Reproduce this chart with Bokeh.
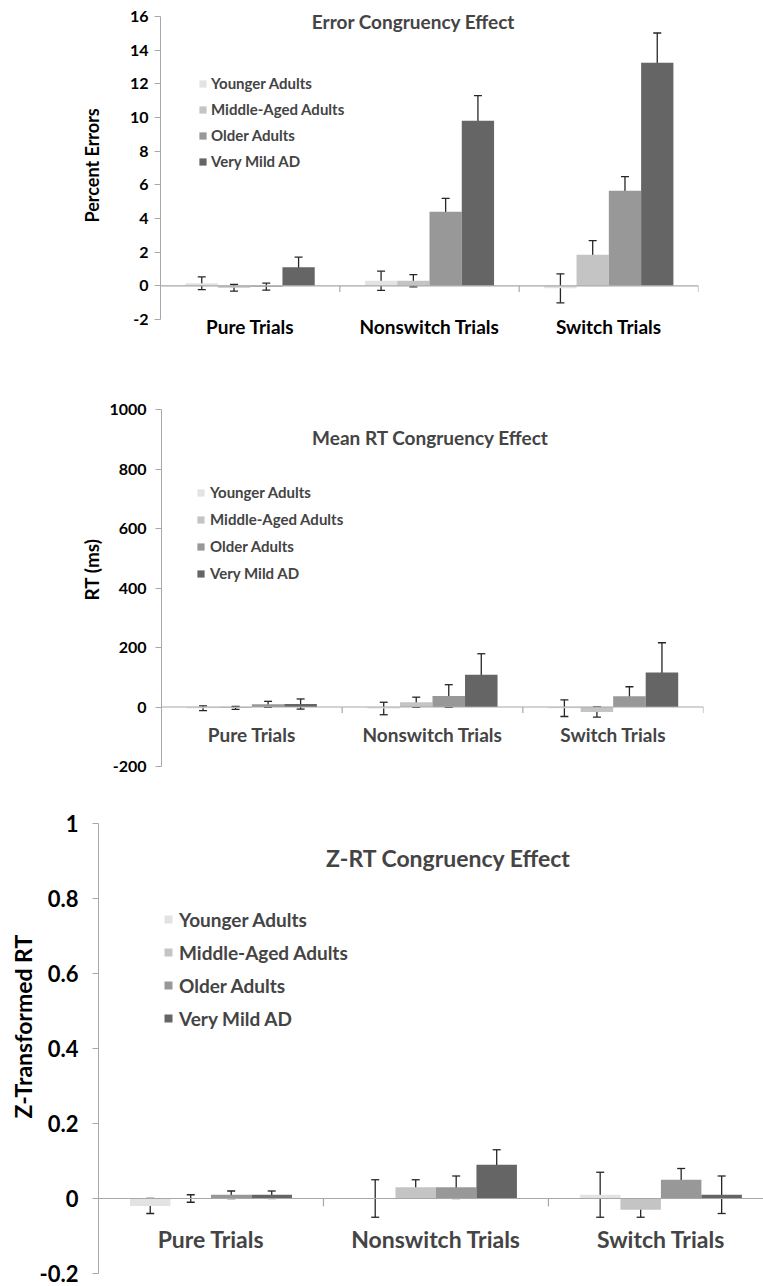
from bokeh.plotting import figure
from bokeh.models import (ColumnDataSource, FixedTicker, Span, Whisker, TeeHead,
                          Label, LabelSet, Legend, LegendItem, Range1d, Title,
                          LinearAxis, CustomJSTickFormatter)
from bokeh.layouts import column
from bokeh.core.properties import value
from bokeh.embed import file_html
from bokeh.resources import INLINE

# ---- data -------------------------------------------------------------
categories = ["Pure Trials", "Nonswitch Trials", "Switch Trials"]
groups = ["Younger Adults", "Middle-Aged Adults", "Older Adults", "Very Mild AD"]

# Error congruency effect (percent errors), per group across categories
err_younger = [0.15, 0.3, -0.15]
err_middle = [-0.12, 0.3, 1.85]
err_older = [-0.05, 4.4, 5.65]
err_vma = [1.1, 9.8, 13.25]
err_younger_se = [0.38, 0.57, 0.86]
err_middle_se = [0.2, 0.36, 0.83]
err_older_se = [0.21, 0.8, 0.84]
err_vma_se = [0.6, 1.5, 1.77]

# Mean RT congruency effect (ms)
rt_younger = [-4, -5, -4]
rt_middle = [-3, 16, -17]
rt_older = [9, 37, 36]
rt_vma = [10, 108, 116]
rt_younger_se = [8, 21, 28]
rt_middle_se = [5, 17, 17]
rt_older_se = [10, 38, 32]
rt_vma_se = [17, 71, 100]

# Z-transformed RT congruency effect
z_younger = [-0.02, 0.0, 0.01]
z_middle = [0.0, 0.03, -0.03]
z_older = [0.01, 0.03, 0.05]
z_vma = [0.01, 0.09, 0.01]
z_younger_se = [0.02, 0.05, 0.06]
z_middle_se = [0.01, 0.02, 0.02]
z_older_se = [0.01, 0.03, 0.03]
z_vma_se = [0.01, 0.04, 0.05]

err_ticks = [-2, 0, 2, 4, 6, 8, 10, 12, 14, 16]
rt_ticks = [-200, 0, 200, 400, 600, 800, 1000]
z_ticks = [-0.2, 0, 0.2, 0.4, 0.6, 0.8, 1]

# ---- styling ----------------------------------------------------------
colors = ["#e3e3e3", "#c4c4c4", "#989898", "#656565"]
AXIS_COLOR = "#a8a8a8"
ERR_COLOR = "#262626"
FONT = "Lato"
BAR_W = 0.18


def make_panel(cfg, series, errors):
    ticks = cfg["ticks"]
    p = figure(width=763, height=cfg["height"],
               x_range=Range1d(0, cfg["x_end"]),
               y_range=Range1d(ticks[0], cfg.get("y_end", ticks[-1])),
               x_axis_location=None, toolbar_location=None,
               output_backend="svg",
               min_border_left=cfg["left"], min_border_right=cfg["right"],
               min_border_top=cfg["top"], min_border_bottom=cfg["bottom"])
    p.frame_align = False
    p.outline_line_color = None
    p.grid.visible = False
    p.background_fill_color = "white"

    ax = p.yaxis[0]
    ax.bounds = (ticks[0], ticks[-1])
    ax.ticker = FixedTicker(ticks=ticks)
    ax.formatter = CustomJSTickFormatter(code="return String(tick)")
    ax.axis_line_color = AXIS_COLOR
    ax.major_tick_line_color = AXIS_COLOR
    ax.minor_tick_line_color = None
    ax.major_tick_out = 6
    ax.major_tick_in = 0
    ax.major_label_standoff = cfg["standoff"]
    ax.major_label_text_font = FONT
    ax.major_label_text_font_style = "bold"
    ax.major_label_text_font_size = cfg["tick_fs"]
    ax.major_label_text_color = "black"

    # y-axis title beside the tick labels; offset is measured up from
    # the bottom of the plotting area
    p.add_layout(Title(text=cfg["ylabel"], align="left",
                       offset=cfg["ylab_offset"], standoff=cfg["ylab_standoff"],
                       text_font=FONT, text_font_style="bold",
                       text_font_size=cfg["ylab_fs"], text_color="black"),
                 "left")

    # horizontal axis through zero plus category separator ticks
    p.add_layout(Span(location=0, dimension="width", line_color=AXIS_COLOR,
                      line_width=1.2))
    n = len(categories)
    p.segment(x0=list(range(1, n + 1)), x1=list(range(1, n + 1)),
              y0=[0] * n, y1=[-cfg["sep"]] * n,
              line_color=AXIS_COLOR, line_width=1.2)

    items = []
    for k, (name, vals, ses) in enumerate(zip(groups, series, errors)):
        xs = [i + 0.5 + (k - 1.5) * BAR_W for i in range(n)]
        src = ColumnDataSource(dict(
            x=xs, top=vals,
            upper=[v + e for v, e in zip(vals, ses)],
            lower=[v - e for v, e in zip(vals, ses)]))
        r = p.vbar(x="x", top="top", bottom=0, width=BAR_W, source=src,
                   fill_color=colors[k], line_color=None)
        items.append(LegendItem(label=name, renderers=[r]))
        p.add_layout(Whisker(
            source=src, base="x", upper="upper", lower="lower",
            dimension="height", line_color=ERR_COLOR, line_width=1.3,
            upper_head=TeeHead(size=8, line_color=ERR_COLOR, line_width=1.3),
            lower_head=TeeHead(size=8, line_color=ERR_COLOR, line_width=1.3)))

    legend = Legend(items=items, location=cfg["leg_loc"],
                    glyph_width=cfg["glyph"], glyph_height=cfg["glyph"],
                    label_standoff=cfg["leg_standoff"],
                    label_height=cfg["leg_lh"], spacing=cfg["leg_sp"],
                    padding=0, margin=0, border_line_color=None,
                    background_fill_alpha=0,
                    label_text_font=FONT, label_text_font_style="bold",
                    label_text_font_size=cfg["leg_fs"])
    p.add_layout(legend)

    p.add_layout(Label(x=cfg["title_xy"][0], y=cfg["title_xy"][1],
                       text=cfg["title"], text_font=FONT,
                       text_font_style="bold", text_font_size=cfg["title_fs"],
                       text_align="center", text_baseline="middle"))

    centers = [i + 0.5 for i in range(n)]
    if cfg["cat_y"] is None:
        # category names on an axis just under the plotting area
        cat_axis = LinearAxis(
            ticker=FixedTicker(ticks=centers),
            formatter=CustomJSTickFormatter(args=dict(names=categories),
                                            code="return names[Math.floor(tick)]"),
            axis_line_color=None, major_tick_line_color=None,
            minor_tick_line_color=None, major_tick_out=0, major_tick_in=0,
            major_label_standoff=cfg["cat_standoff"],
            major_label_text_font=FONT, major_label_text_font_style="bold",
            major_label_text_font_size=cfg["cat_fs"],
            major_label_text_color="black")
        p.add_layout(cat_axis, "below")
    else:
        cat_src = ColumnDataSource(dict(x=centers, y=[cfg["cat_y"]] * n,
                                        text=categories))
        p.add_layout(LabelSet(source=cat_src, x="x", y="y", text="text",
                              text_font=value(FONT), text_font_style="bold",
                              text_font_size=value(cfg["cat_fs"]),
                              text_align="center", text_baseline="middle"))
    return p


p1 = make_panel(dict(height=400, top=0, bottom=81, left=160, right=65,
                     x_end=3.0, ticks=err_ticks, y_end=16.95,
                     tick_fs="16px", standoff=6,
                     sep=0.36, title="Error Congruency Effect",
                     title_xy=(1.411, 15.69), title_fs="19px",
                     ylabel="Percent Errors", ylab_fs="18px",
                     ylab_offset=97, ylab_standoff=47,
                     cat_y=None, cat_standoff=-5, cat_fs="19px",
                     leg_loc=(38, 148), glyph=9, leg_standoff=4, leg_lh=20,
                     leg_sp=6, leg_fs="15px"),
                [err_younger, err_middle, err_older, err_vma],
                [err_younger_se, err_middle_se, err_older_se, err_vma_se])

p2 = make_panel(dict(height=390, top=9, bottom=24, left=161, right=60,
                     x_end=3.0, ticks=rt_ticks, tick_fs="16px", standoff=9,
                     sep=20, title="Mean RT Congruency Effect",
                     title_xy=(1.489, 905.7), title_fs="19px",
                     ylabel="RT (ms)", ylab_fs="19px",
                     ylab_offset=166, ylab_standoff=8,
                     cat_y=-91, cat_fs="19px",
                     leg_loc=(35, 183), glyph=9, leg_standoff=5, leg_lh=20,
                     leg_sp=7, leg_fs="15px"),
                [rt_younger, rt_middle, rt_older, rt_vma],
                [rt_younger_se, rt_middle_se, rt_older_se, rt_vma_se])

p3 = make_panel(dict(height=496, top=33, bottom=13, left=98, right=0,
                     x_end=2.956, ticks=z_ticks, tick_fs="22px", standoff=14,
                     sep=0.021, title="Z-RT Congruency Effect",
                     title_xy=(1.556, 0.907), title_fs="23px",
                     ylabel="Z-Transformed RT", ylab_fs="23px",
                     ylab_offset=155, ylab_standoff=0,
                     cat_y=-0.107, cat_fs="23px",
                     leg_loc=(65, 243), glyph=10, leg_standoff=6, leg_lh=24,
                     leg_sp=9, leg_fs="19px"),
                [z_younger, z_middle, z_older, z_vma],
                [z_younger_se, z_middle_se, z_older_se, z_vma_se])

layout = column(p1, p2, p3, spacing=0)
open("out.html", "w").write(file_html(layout, INLINE))
